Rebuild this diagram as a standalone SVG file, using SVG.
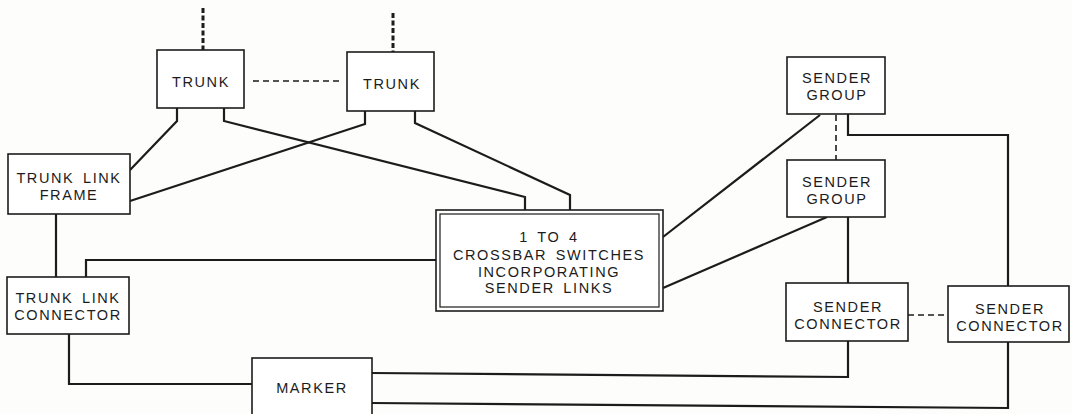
<svg xmlns="http://www.w3.org/2000/svg" width="1072" height="414" viewBox="0 0 1072 414">
<style>
.box{fill:#fff;stroke:#1c1c1c;stroke-width:1.6}
.ln{fill:none;stroke:#1c1c1c;stroke-width:2.2;stroke-linejoin:miter}
.dash{fill:none;stroke:#1c1c1c;stroke-width:1.6;stroke-dasharray:6 4}
.vdash{fill:none;stroke:#1c1c1c;stroke-width:3;stroke-dasharray:5 2.5}
text{font-family:"Liberation Sans",Arial,sans-serif;font-size:14.5px;fill:#1c1c1c;text-anchor:middle;letter-spacing:1.6px;word-spacing:3px}
</style>
<rect width="1072" height="414" fill="#fdfdfb"/>
<g id="connectors">
<path class="vdash" d="M203 8V50"/>
<path class="vdash" d="M393 13V52"/>
<path class="dash" d="M253 81H343"/>
<path class="ln" d="M177 108V121L130 170"/>
<path class="ln" d="M224 108V121L525 197V210"/>
<path class="ln" d="M365 111V124L130 201"/>
<path class="ln" d="M415 111V123L570 195V210"/>
<path class="ln" d="M56 214V277"/>
<path class="ln" d="M436 260H86V277"/>
<path class="ln" d="M69 334V384H252"/>
<path class="ln" d="M663 237L820 115"/>
<path class="ln" d="M663 288L827 217"/>
<path class="dash" d="M836 115V160"/>
<path class="ln" d="M848 114V135H1008V286"/>
<path class="ln" d="M848 217V283"/>
<path class="dash" d="M908 315H948"/>
<path class="ln" d="M848 341V377L372 373"/>
<path class="ln" d="M1008 342V408L372 403"/>
</g>
<g id="trunk1"><rect class="box" x="157" y="50" width="87" height="58"/><text x="201" y="87">TRUNK</text></g>
<g id="trunk2"><rect class="box" x="347" y="52" width="87" height="59"/><text x="392" y="89">TRUNK</text></g>
<g id="trunk-link-frame"><rect class="box" x="8" y="154" width="122" height="60"/><text x="69" y="183">TRUNK LINK</text><text x="69" y="200">FRAME</text></g>
<g id="trunk-link-connector"><rect class="box" x="7" y="277" width="122" height="57"/><text x="68" y="303">TRUNK LINK</text><text x="68" y="320">CONNECTOR</text></g>
<g id="crossbar"><rect class="box" x="436" y="210" width="227" height="101" stroke-width="2"/><rect x="440" y="214" width="219" height="93" fill="none" stroke="#1c1c1c" stroke-width="1.2"/>
<text x="549" y="242">1 TO 4</text><text x="549" y="260">CROSSBAR SWITCHES</text><text x="549" y="277">INCORPORATING</text><text x="549" y="293">SENDER LINKS</text></g>
<g id="marker"><rect class="box" x="252" y="358" width="120" height="60"/><text x="312" y="393">MARKER</text></g>
<g id="sender-group1"><rect class="box" x="787" y="57" width="98" height="57"/><text x="837" y="83">SENDER</text><text x="837" y="100">GROUP</text></g>
<g id="sender-group2"><rect class="box" x="787" y="160" width="98" height="57"/><text x="837" y="187">SENDER</text><text x="837" y="204">GROUP</text></g>
<g id="sender-connector1"><rect class="box" x="786" y="283" width="122" height="58"/><text x="848" y="312">SENDER</text><text x="848" y="329">CONNECTOR</text></g>
<g id="sender-connector2"><rect class="box" x="948" y="286" width="121" height="56"/><text x="1010" y="314">SENDER</text><text x="1010" y="331">CONNECTOR</text></g>
</svg>
